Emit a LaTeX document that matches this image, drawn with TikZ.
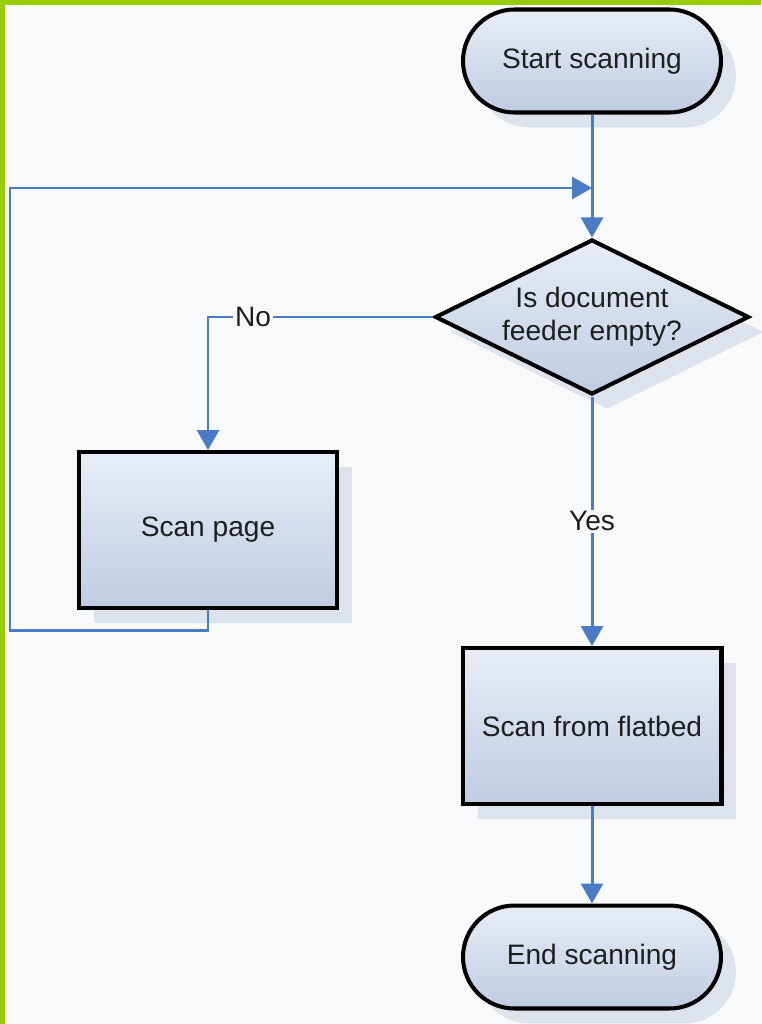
\documentclass[tikz,border=0pt]{standalone}
\usepackage{fontspec}
\setmainfont{Liberation Sans}
\usepackage{tikz}
\usetikzlibrary{arrows.meta,shapes,positioning,shadows,calc}

\definecolor{flowblue}{HTML}{4A7CC6}
\definecolor{boxlight}{HTML}{E8EDF6}
\definecolor{boxdark}{HTML}{BFCCE3}
\definecolor{shadowgray}{HTML}{DDE3ED}
\definecolor{paper}{HTML}{F8F9FB}
\definecolor{framegreen}{HTML}{99CC00}
\definecolor{inkgray}{HTML}{1E1E1E}

\tikzset{
  box/.style={draw=black, line width=2.3pt, top color=boxlight, bottom color=boxdark,
    text=inkgray, font=\fontsize{16}{19}\selectfont, align=center, inner sep=0pt,
    drop shadow={shadow xshift=0.3cm, shadow yshift=-0.3cm, fill=shadowgray, opacity=1}},
  terminal/.style={box, rectangle, rounded corners=1.03cm, minimum width=5.16cm, minimum height=2.06cm},
  process/.style={box, rectangle, minimum width=5.18cm, minimum height=3.12cm},
  decision/.style={box, diamond, aspect=2, minimum width=6.28cm, minimum height=3.1cm},
  flow/.style={draw=flowblue, line width=1.7pt, -{Triangle[width=0.44cm,length=0.4cm]}},
  flowlabel/.style={fill=paper, inner sep=1pt, text=inkgray, font=\fontsize{16}{19}\selectfont}
}

\begin{document}
\begin{tikzpicture}[x=0.02cm, y=-0.02cm]
    % Page and frame
    \useasboundingbox (0,0) rectangle (761,1024);
    \fill[paper] (0,0) rectangle (761,1024);
    \fill[framegreen] (0,0) rectangle (5,1024);
    \fill[framegreen] (0,0) rectangle (761,5);

    % Flowchart steps
    \node[terminal] (start) at (592,61) {Start scanning};
    \node[decision] (feeder) at (592,317) {Is document\\feeder empty?};
    \node[process] (scanpage) at (208,530) {Scan page};
    \node[process] (flatbed) at (592,726) {Scan from flatbed};
    \node[terminal] (stop) at (592,957) {End scanning};

    % Loop back points
    \coordinate (merge) at (592,188);
    \coordinate (loopcorner) at (10,630);

    % Connectors
    \draw[flow] (start) -- (feeder);
    \draw[flow] (feeder.west) -| node[flowlabel, pos=0.4] {No} (scanpage.north);
    \draw[flow] (feeder.south) -- node[flowlabel] {Yes} (flatbed.north);
    \draw[flow] (flatbed) -- (stop);
    \draw[flow] (scanpage.south) |- (loopcorner) |- (merge);
\end{tikzpicture}
\end{document}
